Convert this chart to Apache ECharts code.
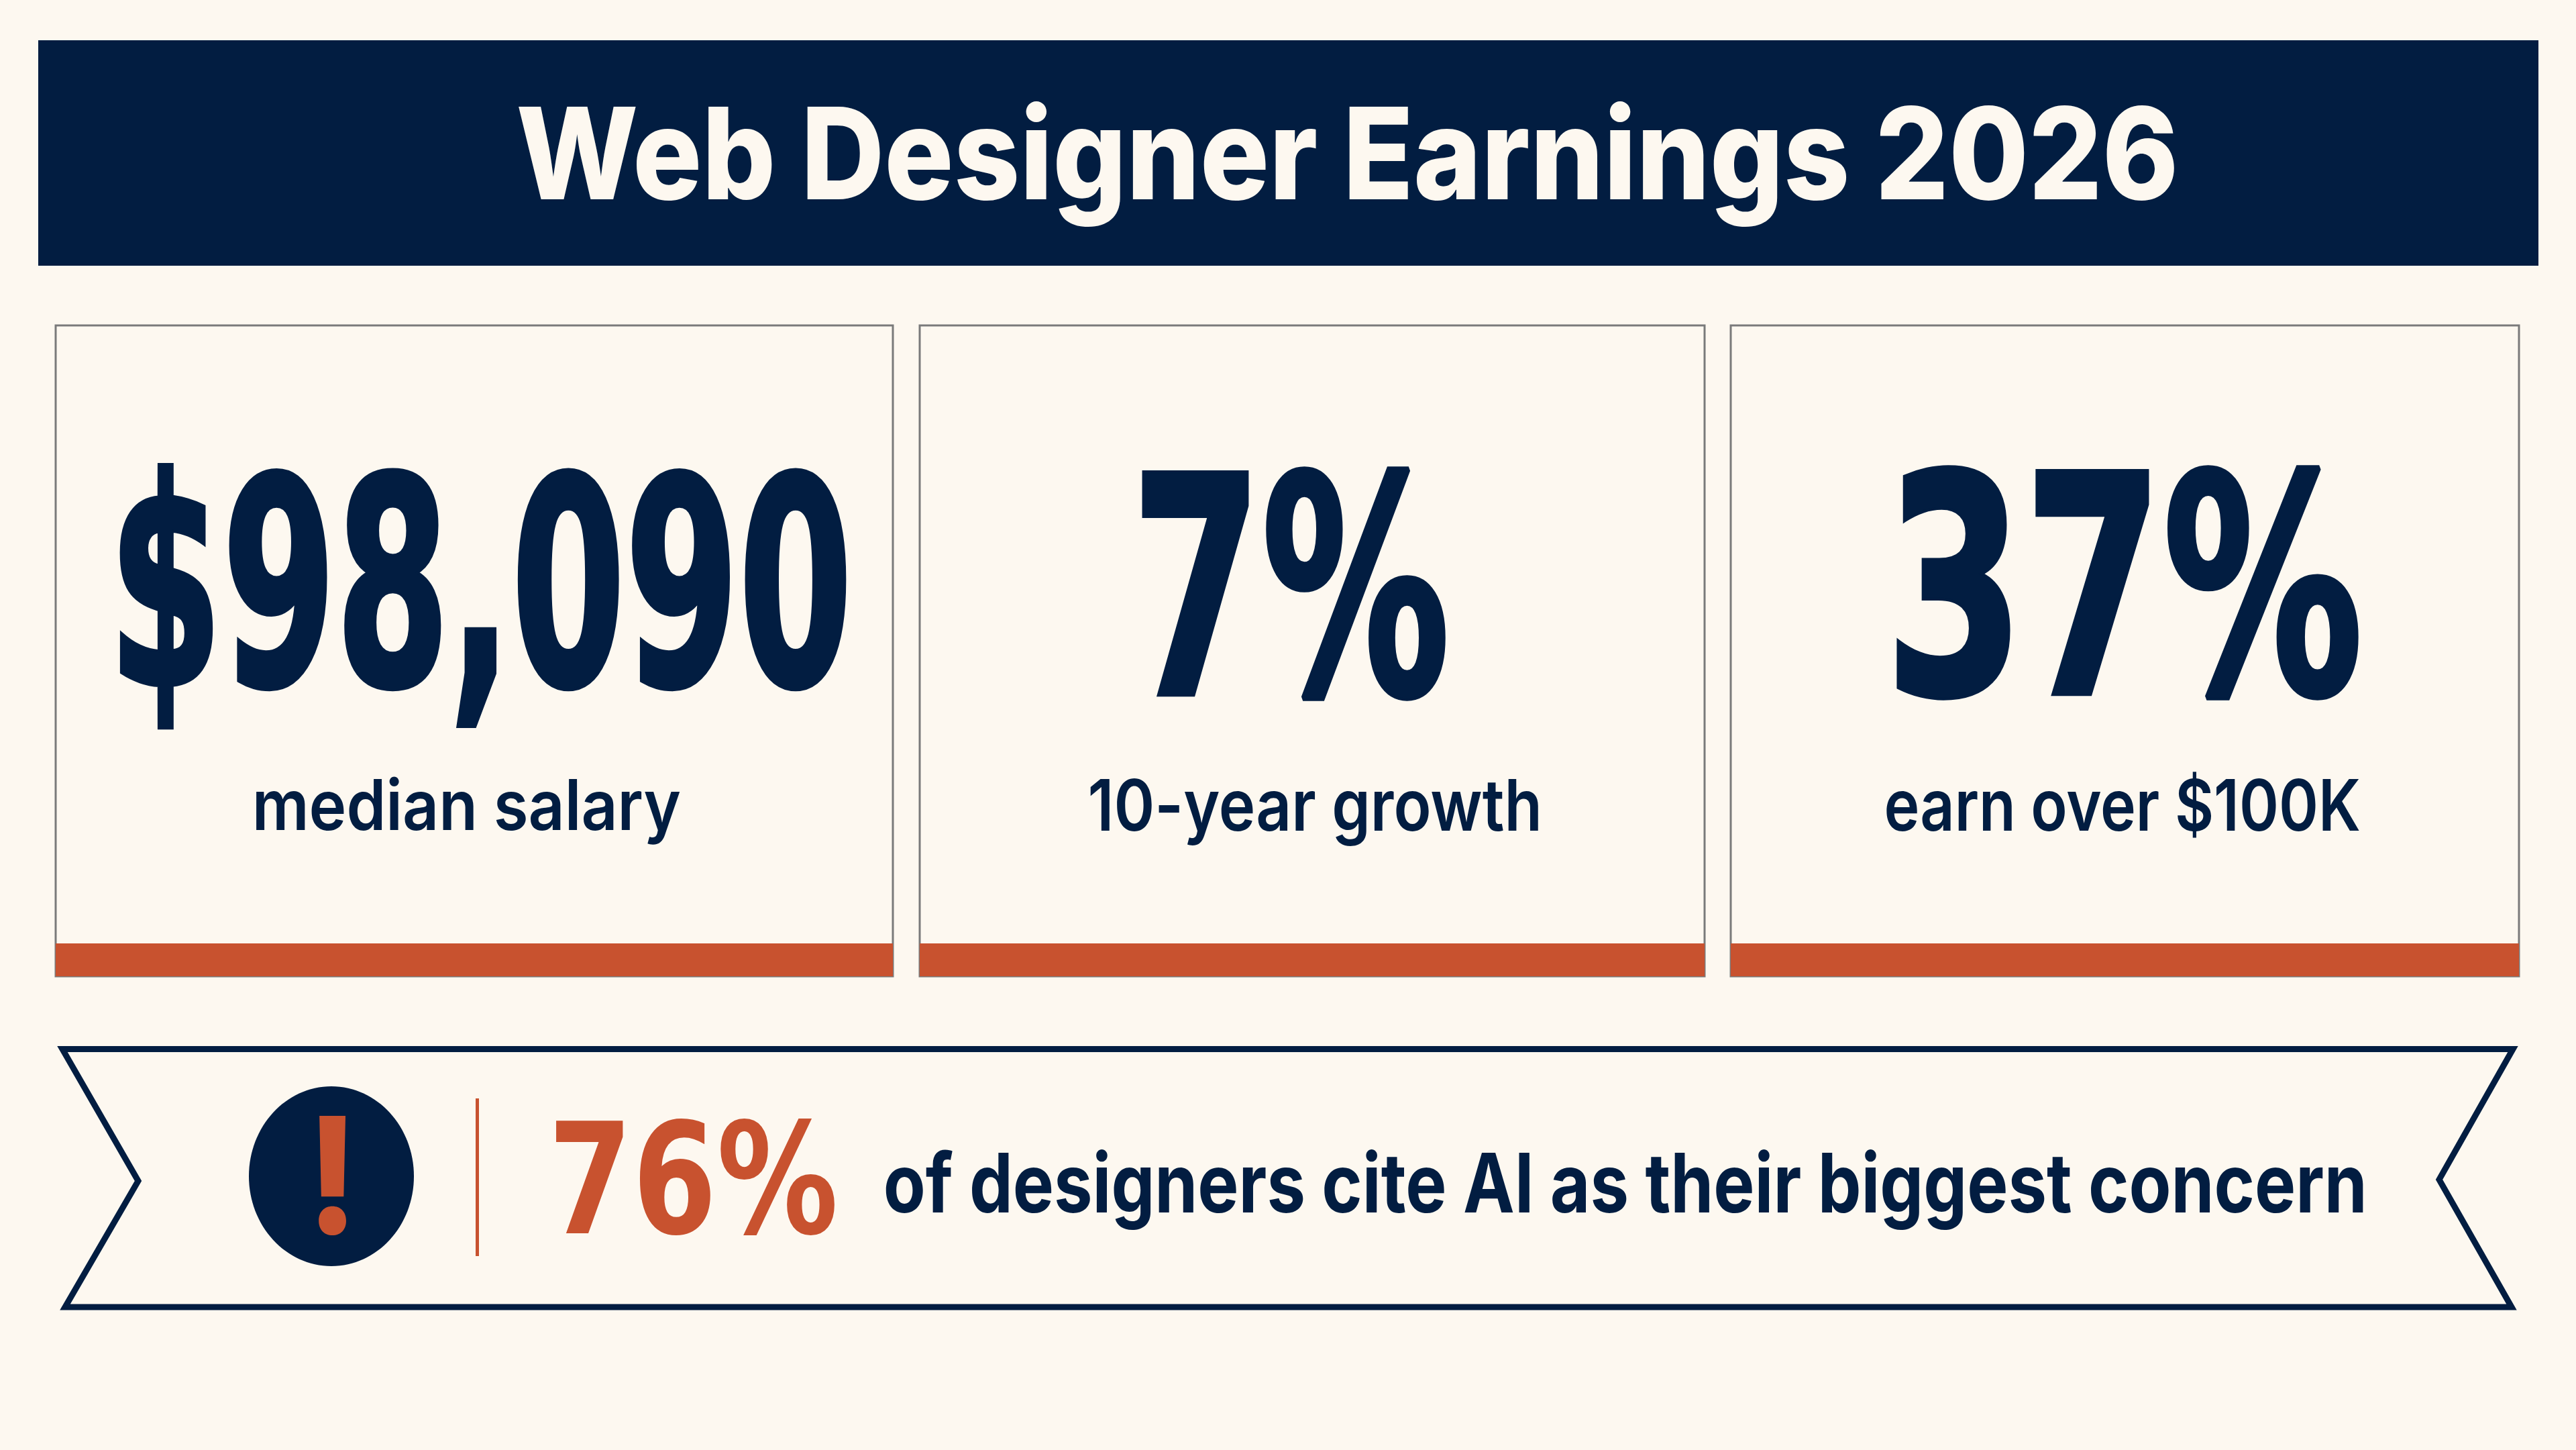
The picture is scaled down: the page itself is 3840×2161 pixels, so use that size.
<!DOCTYPE html>
<html>
<head>
<meta charset="utf-8">
<style>html,body{margin:0;padding:0;background:#FDF8F0;}#c{width:3840px;height:2161px;}</style>
<script src="https://cdn.jsdelivr.net/npm/echarts@6/dist/echarts.min.js"></script>
</head>
<body>
<div id="c"></div>
<script>
// ---- content ----
const titleText = 'Web Designer Earnings 2026';
const statValues = ['$98,090', '7%', '37%'];
const statLabels = ['median salary', '10-year growth', 'earn over $100K'];
const concernValue = '76%';
const concernText = 'of designers cite AI as their biggest concern';
const alertGlyph = '!';

// ---- palette ----
const NAVY = '#021D41', ORANGE = '#C8522F', PAPER = '#FDF8F0', RULE = '#7A7A7A';
const FONT_HEAD = 'Inter', FONT_NUM = '"DejaVu Sans"', FONT_BODY = 'Inter';

// ---- layout (page pixels) ----
const header = {x: 57, y: 60, w: 3727, h: 336};
const cardTop = 485, cardBottom = 1455, barTop = 1406;
const cards = [{l: 83, r: 1331}, {l: 1371, r: 2541}, {l: 2580, r: 3755}];
const valueBoxes = [
  {l: 181, r: 1261, base: 1020, top: 705},
  {l: 1704, r: 2156, base: 1034, top: 703},
  {l: 2829, r: 3517, base: 1033, top: 701}
];
const labelBoxes = [
  {l: 382, r: 1014, base: 1237, top: 1180},
  {l: 1625, r: 2293, base: 1238, top: 1180},
  {l: 2812, r: 3517, base: 1238, top: 1180}
];
const ribbon = [[93,1563.5],[3746,1563.5],[3636,1758],[3744,1948],[97,1948],[206,1760]];

const mctx = document.createElement('canvas').getContext('2d');
// Places text so its ink spans l..r and its reference glyph spans top..base.
function fitText(text, family, weight, size, ref, box, color, heavy) {
  const font = weight + ' ' + size + 'px ' + family;
  mctx.font = font;
  mctx.textBaseline = 'middle';
  mctx.textAlign = 'left';
  const m = mctx.measureText(text);
  const rm = mctx.measureText(ref);
  const inkW = m.actualBoundingBoxRight + m.actualBoundingBoxLeft;
  const refH = rm.actualBoundingBoxAscent + rm.actualBoundingBoxDescent;
  const sx = (box.r - box.l) / inkW;
  const sy = (box.base - box.top) / refH;
  const style = {text, x: 0, y: 0, fill: color, font, textAlign: 'left', textVerticalAlign: 'middle', verticalAlign: 'middle'};
  if (heavy) { style.stroke = color; style.lineWidth = heavy; }
  return {
    type: 'text', silent: true,
    x: box.l + m.actualBoundingBoxLeft * sx,
    y: box.base - rm.actualBoundingBoxDescent * sy,
    scaleX: sx, scaleY: sy,
    style: style
  };
}

const elements = [];
elements.push({type: 'rect', silent: true, shape: {x: header.x, y: header.y, width: header.w, height: header.h}, style: {fill: NAVY}});
elements.push(fitText(titleText, FONT_HEAD, 800, 188, 'E', {l: 773, r: 3241, base: 297, top: 159}, PAPER));

cards.forEach(function (c, i) {
  elements.push({type: 'rect', silent: true, shape: {x: c.l, y: cardTop, width: c.r - c.l, height: cardBottom - cardTop},
    style: {fill: 'none', stroke: RULE, lineWidth: 3}});
  elements.push({type: 'rect', silent: true, shape: {x: c.l, y: barTop, width: c.r - c.l, height: cardBottom - barTop},
    style: {fill: ORANGE}});
  elements.push(fitText(statValues[i], FONT_NUM, 700, 470, '7', valueBoxes[i], NAVY, 9));
  elements.push(fitText(statLabels[i], FONT_BODY, 600, 104, 'x', labelBoxes[i], NAVY));
});

elements.push({type: 'polygon', silent: true, shape: {points: ribbon},
  style: {fill: PAPER, stroke: NAVY, lineWidth: 9, lineJoin: 'miter', miterLimit: 10}});
elements.push({type: 'ellipse', silent: true, shape: {cx: 494, cy: 1753, rx: 123, ry: 134}, style: {fill: NAVY}});
elements.push(fitText(alertGlyph, 'Inter', 800, 240, alertGlyph, {l: 475, r: 516, base: 1841, top: 1663}, ORANGE));
elements.push({type: 'rect', silent: true, shape: {x: 709, y: 1637, width: 5, height: 235}, style: {fill: ORANGE}});
elements.push(fitText(concernValue, FONT_NUM, 700, 240, '7', {l: 829, r: 1244, base: 1839, top: 1670}, ORANGE));
elements.push(fitText(concernText, FONT_BODY, 700, 122, 'x', {l: 1320, r: 3523, base: 1807, top: 1740}, NAVY));

const chart = echarts.init(document.getElementById('c'), null, {width: 3840, height: 2161, renderer: 'canvas'});
chart.setOption({
  animation: false,
  backgroundColor: PAPER,
  graphic: {elements: elements}
});
</script>
</body>
</html>
